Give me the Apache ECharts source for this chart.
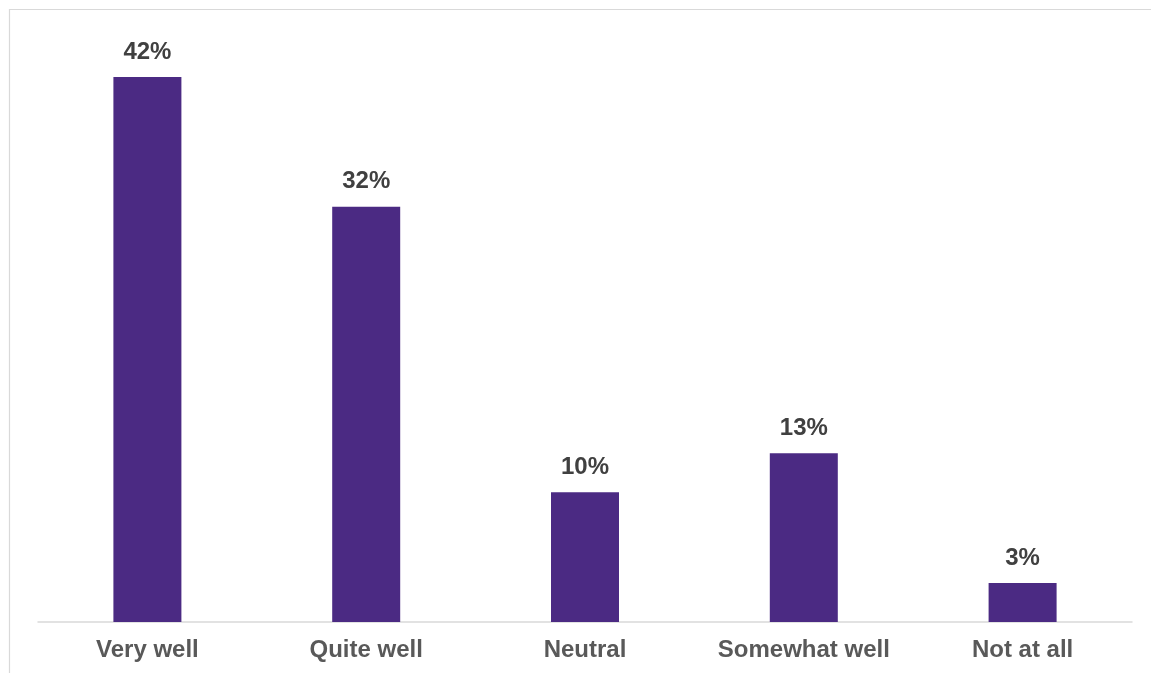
<!DOCTYPE html>
<html>
<head>
<meta charset="utf-8">
<style>
  html, body { margin: 0; padding: 0; background: #ffffff; }
  #chart { width: 1151px; height: 673px; }
</style>
<script src="https://cdn.jsdelivr.net/npm/echarts@6/dist/echarts.min.js"></script>
</head>
<body>
<div id="chart"></div>
<script>
// Survey answers and their share of respondents (%)
const categories = ['Very well', 'Quite well', 'Neutral', 'Somewhat well', 'Not at all'];
const shares = [42, 32, 10, 13, 3];

const chart = echarts.init(document.getElementById('chart'), null, { renderer: 'canvas' });

chart.setOption({
  backgroundColor: '#ffffff',
  animation: false,
  textStyle: { fontFamily: 'Liberation Sans, Arial, sans-serif' },
  // light frame around the chart area
  graphic: [
    { type: 'line', shape: { x1: 9, y1: 9.5, x2: 1151, y2: 9.5 }, style: { stroke: '#D9D9D9', lineWidth: 1.2 } },
    { type: 'line', shape: { x1: 9.5, y1: 9, x2: 9.5, y2: 673 }, style: { stroke: '#D9D9D9', lineWidth: 1.2 } }
  ],
  grid: { left: 38, right: 19, top: 38, bottom: 51, containLabel: false },
  xAxis: {
    type: 'category',
    data: categories,
    axisLine: { show: true, lineStyle: { color: '#D9D9D9', width: 1.5 } },
    axisTick: { show: false },
    axisLabel: {
      interval: 0,
      hideOverlap: false,
      margin: 16,
      color: '#595959',
      fontSize: 24,
      fontWeight: 'bold',
      fontFamily: 'Liberation Sans, Arial, sans-serif'
    }
  },
  yAxis: {
    type: 'value',
    min: 0,
    max: 45,
    show: false,
    splitLine: { show: false }
  },
  series: [{
    type: 'bar',
    data: shares,
    barWidth: 68,
    itemStyle: { color: '#4B2A83' },
    label: {
      show: true,
      position: 'top',
      distance: 13,
      formatter: p => p.value + '%',
      color: '#404040',
      fontSize: 24,
      fontWeight: 'bold',
      fontFamily: 'Liberation Sans, Arial, sans-serif'
    }
  }]
});
</script>
</body>
</html>
